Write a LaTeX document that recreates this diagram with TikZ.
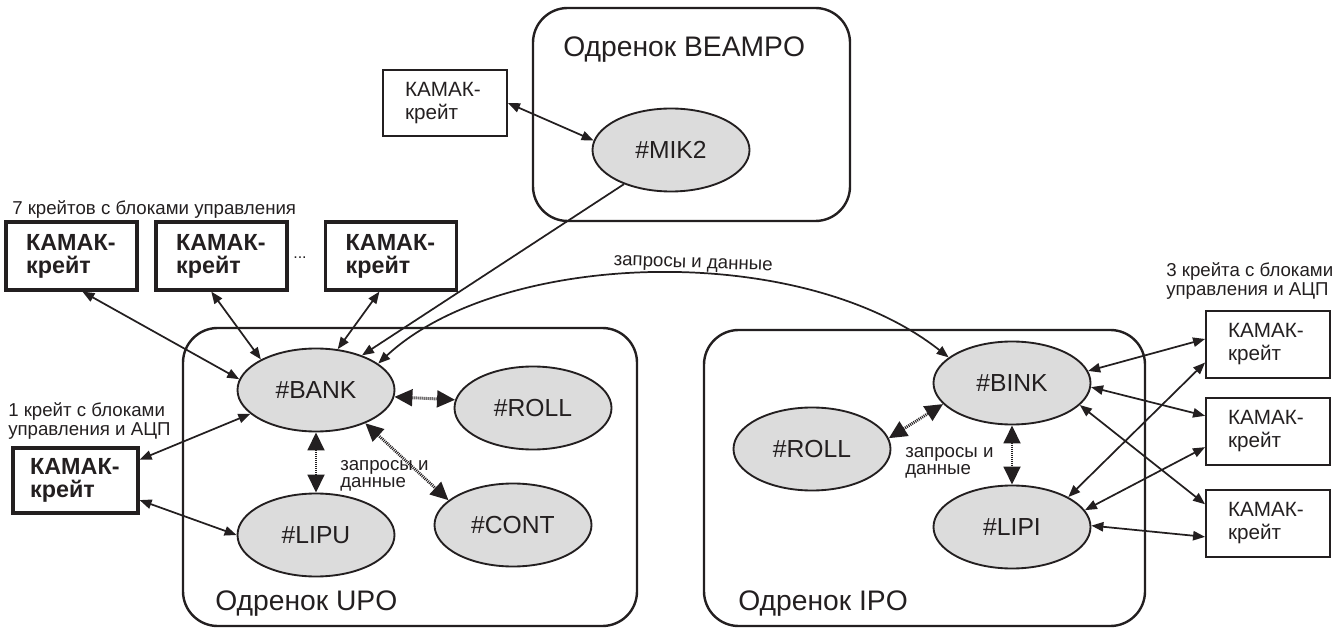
\documentclass[tikz,border=0pt]{standalone}
\usepackage{fontspec}
\setmainfont{Liberation Sans}
\usetikzlibrary{arrows.meta,shapes.geometric}
\definecolor{procfill}{RGB}{220,220,220}
\definecolor{ink}{RGB}{35,31,32}

\begin{document}
\begin{tikzpicture}[x=0.75pt,y=-0.75pt,
  every node/.style={text=ink},
  proc/.style={ellipse, draw=ink, line width=1.4pt, fill=procfill, inner sep=0pt,
    minimum width=117.75pt, minimum height=62.25pt, font=\fontsize{18.5}{22}\selectfont},
  grp/.style={draw=ink, line width=1.8pt, rounded corners=26pt},
  grplabel/.style={inner sep=0pt, anchor=base west, font=\fontsize{21.2}{25}\selectfont},
  crate/.style={draw=ink, line width=1.4pt, inner sep=0pt, align=left, text width=60pt,
    minimum width=93pt, minimum height=50pt, font=\fontsize{15.5}{17.25}\selectfont},
  cratebold/.style={crate, line width=2.4pt, text width=68pt, minimum width=98.25pt,
    minimum height=51pt, font=\bfseries\fontsize{17.5}{17.25}\selectfont},
  note/.style={inner sep=0pt, align=left, font=\fontsize{14}{14.5}\selectfont},
  reqnote/.style={inner sep=0pt, align=left, font=\fontsize{14}{12.75}\selectfont},
  link/.style={draw=ink, line width=1.3pt, {Triangle[length=9pt,width=7pt]}-{Triangle[length=9pt,width=7pt]}},
  feed/.style={draw=ink, line width=1.3pt, -{Triangle[length=9pt,width=7pt]}},
  req/.style={draw=ink, line width=2.2pt, dash pattern=on 0.75pt off 0.75pt,
    {Triangle[length=13.5pt,width=12.5pt]}-{Triangle[length=13.5pt,width=12.5pt]}},
]
\useasboundingbox (0,0) rectangle (1341,630);

% process groups
\draw[grp] (533,8) rectangle (850,221);
\draw[grp] (183,328) rectangle (637,626);
\draw[grp] (704,330) rectangle (1145,626);
\node[grplabel] (tBEAMPO) at (563,57) {Одренок BEAMPO};
\node[grplabel] (tUPO) at (215,610) {Одренок UPO};
\node[grplabel] (tIPO) at (738,610) {Одренок IPO};

% processes
\node[proc] (mik)   at (671,150) {\#MIK2};
\node[proc] (bank)  at (316,390) {\#BANK};
\node[proc] (rollu) at (533,408) {\#ROLL};
\node[proc] (lipu)  at (316,535) {\#LIPU};
\node[proc] (cont)  at (513,525) {\#CONT};
\node[proc] (bink)  at (1012,383) {\#BINK};
\node[proc] (rolli) at (812,449) {\#ROLL};
\node[proc] (lipi)  at (1012,527) {\#LIPI};

% CAMAC crates
\node[crate] (kt) at (445,103) {КАМАК-\\крейт};
\node[cratebold] (k1) at (71.5,256) {КАМАК-\\крейт};
\node[cratebold] (k2) at (221.5,256) {КАМАК-\\крейт};
\node[cratebold] (k3) at (391,256) {КАМАК-\\крейт};
\node[font=\fontsize{12}{14}\selectfont, inner sep=0pt, anchor=base] (dots) at (300,259) {...};
\node[cratebold, minimum width=93.75pt, minimum height=48.75pt] (kl) at (75.5,480.5) {КАМАК-\\крейт};
\node[crate] (kr1) at (1268,344.5) {КАМАК-\\крейт};
\node[crate] (kr2) at (1268,431.5) {КАМАК-\\крейт};
\node[crate] (kr3) at (1268,523.5) {КАМАК-\\крейт};

% captions
\node[note, anchor=north west] (n7) at (12,200) {7 крейтов с блоками управления};
\node[note, anchor=north west] (n1) at (8,402) {1 крейт с блоками\\управления и АЦП};
\node[note, anchor=north west] (n3) at (1166,262) {3 крейта с блоками\\управления и АЦП};
\node[reqnote, anchor=north west] (qu) at (340,460) {запросы и\\данные};
\node[reqnote, anchor=north west] (qi) at (905,447) {запросы и\\данные};

% crate links
\draw[link] (kt.east) -- (mik.173);
\draw[feed] (mik.216) -- (bank.37);
\draw[link] (k1.-73) -- (bank.172);
\draw[link] (k2.254) -- (bank.151);
\draw[link] (k3.252) -- (bank.62);
\draw[link] (kl.18) -- (bank.200);
\draw[link] (kl.-17) -- (lipu.180);

\draw[link] (bink.9.5) -- (kr1.175);
\draw[link] (bink.-3.6) -- (kr2.166.8);
\draw[link] (bink.-18.7) -- (kr3.163.4);
\draw[link] (lipi.28) -- (kr1.196);
\draw[link] (lipi.13) -- (kr2.194);
\draw[link] (lipi.1.5) -- (kr3.192.3);

% requests between groups
\draw[link] (bank.23) .. controls (500,250) and (800,240) .. (bink.158);
\node[inner sep=0pt, anchor=base, rotate=-2, font=\fontsize{14}{16}\selectfont] (qc) at (693,268) {запросы и данные};

% requests inside groups
\draw[req] (bank.-5) -- (rollu.174);
\draw[req] (bank.south) -- (lipu.north);
\draw[req] (bank.-34) -- (cont.159);
\draw[req] (rolli.8.5) -- (bink.197);
\draw[req] (bink.south) -- (lipi.north);
\end{tikzpicture}
\end{document}
